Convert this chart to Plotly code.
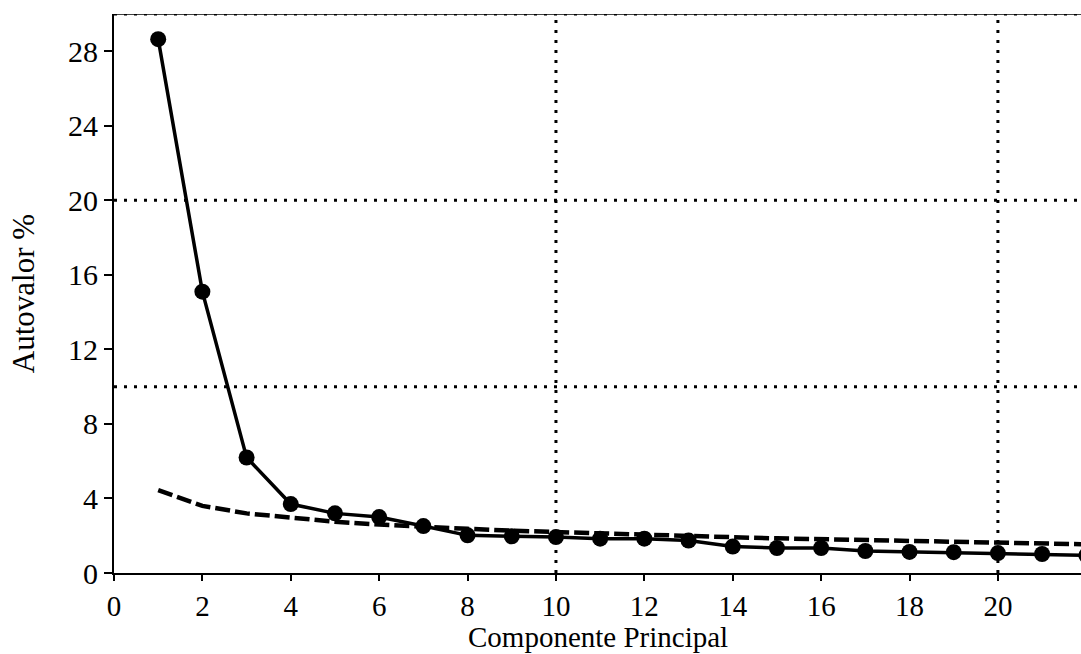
import plotly.graph_objects as go

# Principal component index
components = list(range(1, 23))

# Eigenvalue (% of variance) for each component
eigen_pct = [28.65, 15.1, 6.2, 3.7, 3.2, 3.0, 2.52, 2.02, 1.97, 1.93, 1.84, 1.84,
             1.74, 1.42, 1.34, 1.34, 1.18, 1.13, 1.12, 1.07, 1.02, 0.95]

# Reference (broken-stick) expectation for each component
reference_pct = [4.45, 3.6, 3.2, 2.95, 2.75, 2.6, 2.47, 2.37, 2.27, 2.19, 2.11,
                 2.04, 1.98, 1.92, 1.86, 1.81, 1.76, 1.71, 1.66, 1.62, 1.58, 1.54]

x_ticks = list(range(0, 21, 2))
y_ticks = list(range(0, 29, 4))
h_guides = [10, 20, 30]
v_guides = [10, 20]

X_MAX = 21.88
Y_MAX = 30

font_family = "Liberation Serif"

MARGIN_T, MARGIN_B = 14, 81
PLOT_H = 654 - MARGIN_T - MARGIN_B

fig = go.Figure()

fig.add_trace(go.Scatter(
    x=components, y=reference_pct, mode="lines",
    line=dict(color="black", width=4.5, dash="15px,5px"),
    cliponaxis=True, showlegend=False,
))

fig.add_trace(go.Scatter(
    x=components, y=eigen_pct, mode="lines+markers",
    line=dict(color="black", width=3.5),
    marker=dict(color="black", size=16, symbol="circle"),
    cliponaxis=True, showlegend=False,
))

dot_line = dict(color="black", width=3, dash="3px,7px")
shapes = []
for yv in h_guides:
    shapes.append(dict(type="line", xref="x", yref="y", x0=0, x1=X_MAX,
                       y0=yv, y1=yv, line=dot_line, layer="below"))
for xv in v_guides:
    shapes.append(dict(type="line", xref="x", yref="y", x0=xv, x1=xv,
                       y0=0, y1=Y_MAX, line=dot_line, layer="below"))
# thin top border along the upper limit
shapes.append(dict(type="line", xref="x", yref="y", x0=0, x1=X_MAX,
                   y0=Y_MAX, y1=Y_MAX, line=dict(color="black", width=1.5),
                   layer="below"))

# x-axis title placed at the very bottom of the figure
x_title = dict(
    text="Componente Principal", xref="paper", yref="paper",
    x=0.5, xanchor="center", y=-(MARGIN_B + 1) / PLOT_H, yanchor="bottom",
    showarrow=False, font=dict(size=29, family=font_family, color="black"),
)

fig.update_layout(
    width=1081, height=654,
    margin=dict(l=114, r=0, t=MARGIN_T, b=MARGIN_B),
    paper_bgcolor="white", plot_bgcolor="white",
    font=dict(family=font_family, size=30, color="black"),
    shapes=shapes,
    annotations=[x_title],
    xaxis=dict(
        range=[0, X_MAX], tickvals=x_ticks, ticktext=[str(v) for v in x_ticks],
        showgrid=False, zeroline=False, showline=True, linecolor="black",
        linewidth=2, ticks="outside", ticklen=6, tickwidth=2, tickcolor="black",
        tickfont=dict(size=29, family=font_family),
    ),
    yaxis=dict(
        range=[0, Y_MAX], tickvals=y_ticks, ticktext=[str(v) for v in y_ticks],
        showgrid=False, zeroline=False, showline=True, linecolor="black",
        linewidth=2, ticks="outside", ticklen=8, tickwidth=2, tickcolor="black",
        tickfont=dict(size=30, family=font_family),
        title=dict(text="Autovalor %", standoff=24,
                   font=dict(size=31, family=font_family)),
    ),
)

fig.write_html("out.html")
